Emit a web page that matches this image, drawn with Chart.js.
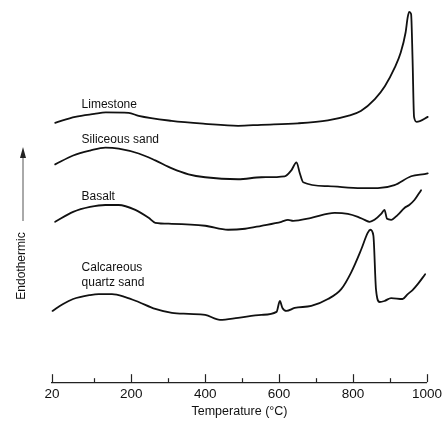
<!DOCTYPE html>
<html>
<head>
<meta charset="utf-8">
<script src="https://cdn.jsdelivr.net/npm/chart.js@4/dist/chart.umd.min.js"></script>
<style>
    html, body { margin: 0; padding: 0; background: #fff; }
    #wrap { width: 446px; height: 426px; }
</style>
</head>
<body>
<div id="wrap"><canvas id="dtaChart"></canvas></div>
<script>
// DTA curves (temperature in °C, deflection in arbitrary units)
const limestoneTemp   = [26, 64, 100, 131, 193, 220, 309, 400, 489, 551, 651, 732, 786, 821, 859, 886, 913, 929, 942, 948, 952, 957, 961, 965, 972, 1002, 1031];
const limestoneSignal = [262, 268, 271, 272.5, 272, 269, 264, 261, 259, 260, 261.5, 264.5, 269, 274, 286, 299, 318, 333, 353, 369, 374, 372, 326, 268, 263, 268, 274];

const siliceousTemp   = [26, 60, 92, 130, 166, 220, 265, 310, 355, 400, 489, 552, 615, 633, 647, 656, 665, 732, 822, 867, 912, 957, 1002, 1042];
const siliceousSignal = [220, 229, 234, 237, 236, 231, 224, 216, 210, 207, 205, 207, 208, 214, 222, 211, 202, 198, 196, 196, 199, 208, 211, 217];

const basaltTemp   = [26, 60, 92, 130, 166, 211, 247, 265, 310, 400, 462, 508, 552, 606, 624, 638, 687, 750, 786, 813, 831, 845, 858, 876, 885, 892, 903, 921, 939, 952, 966, 984];
const basaltSignal = [162, 172, 177, 179, 179, 174, 166, 161, 160, 158, 154, 155, 158, 162, 164, 163, 166, 171, 170, 167, 164, 162, 164, 170, 174, 165, 164, 169, 176, 179, 184, 194];

const calcareousTemp   = [21, 41, 60, 92, 112, 148, 184, 220, 265, 310, 355, 400, 440, 489, 552, 593, 602, 609, 620, 642, 687, 732, 768, 795, 822, 840, 847, 855, 862, 872, 885, 903, 934, 948, 961, 975, 995];
const calcareousSignal = [72, 79, 84, 88, 89, 89, 86, 81, 74, 70, 69, 68, 63, 65, 68, 71, 82, 75, 72, 75, 77, 84, 94, 111, 134, 151, 154, 148, 94, 81, 82, 85, 84, 89, 93, 99, 109];

// axis ticks
const majorTicks = [20, 200, 400, 600, 800, 1000];
const minorTicks = [100, 300, 500, 700, 900];

// curve captions, anchored in data coordinates (left edge, baseline)
const curveLabels = [
    { text: 'Limestone', x: 76, y: 277 },
    { text: 'Siliceous sand', x: 76, y: 242 },
    { text: 'Basalt', x: 76, y: 184 },
    { text: 'Calcareous', x: 76, y: 112 },
    { text: 'quartz sand', x: 76, y: 97 }
];

const FONT = "'Liberation Sans', Arial, Helvetica, sans-serif";
const INK = '#111';

// The printed axis gives the 20–100 °C interval more room than the rest
class PrintedAxis extends Chart.LinearScale {
    static id = 'printed';
    warp(v) {
        return v < 100 ? 100 - (100 - v) * 1.43 : v;
    }
    getPixelForValue(value) {
        const a = this.warp(this.min), b = this.warp(this.max);
        return this.getPixelForDecimal((this.warp(value) - a) / (b - a));
    }
    getValueForPixel(pixel) {
        const a = this.warp(this.min), b = this.warp(this.max);
        const w = a + this.getDecimalForPixel(pixel) * (b - a);
        return w < 100 ? 100 - (100 - w) / 1.43 : w;
    }
}
Chart.register(PrintedAxis);

function toPoints(temps, values) {
    return temps.map((t, i) => ({ x: t, y: values[i] }));
}

function curve(label, temps, values) {
    return {
        label: label,
        data: toPoints(temps, values),
        borderColor: INK,
        borderWidth: 1.8,
        pointRadius: 0,
        fill: false,
        clip: false,
        cubicInterpolationMode: 'monotone',
        borderJoinStyle: 'round',
        borderCapStyle: 'round'
    };
}

// inward tick marks, curve captions and the "Endothermic" arrow
const decorations = {
    id: 'decorations',
    afterDraw(chart) {
        const { ctx, chartArea, scales: { x, y } } = chart;
        ctx.save();

        // tick marks pointing up into the plot
        ctx.strokeStyle = '#222';
        ctx.lineWidth = 1.2;
        const axisY = chartArea.bottom;
        majorTicks.concat(minorTicks).forEach(v => {
            const px = Math.round(x.getPixelForValue(v)) + 0.5;
            const len = majorTicks.includes(v) ? 8 : 4;
            ctx.beginPath();
            ctx.moveTo(px, axisY);
            ctx.lineTo(px, axisY - len);
            ctx.stroke();
        });

        // curve captions
        ctx.fillStyle = INK;
        ctx.font = '12px ' + FONT;
        ctx.textAlign = 'left';
        ctx.textBaseline = 'alphabetic';
        curveLabels.forEach(l => {
            ctx.fillText(l.text, x.getPixelForValue(l.x), y.getPixelForValue(l.y));
        });

        // y label with arrow
        const ax = 23;
        ctx.strokeStyle = '#555';
        ctx.lineWidth = 1;
        ctx.beginPath();
        ctx.moveTo(ax, 221);
        ctx.lineTo(ax, 154);
        ctx.stroke();
        ctx.fillStyle = '#222';
        ctx.beginPath();
        ctx.moveTo(ax, 147);
        ctx.lineTo(ax - 3, 158);
        ctx.lineTo(ax + 3, 158);
        ctx.closePath();
        ctx.fill();

        ctx.translate(22, 266);
        ctx.rotate(-Math.PI / 2);
        ctx.textAlign = 'center';
        ctx.textBaseline = 'middle';
        ctx.fillStyle = INK;
        ctx.font = '12px ' + FONT;
        ctx.fillText('Endothermic', 0, 0);

        ctx.restore();
    }
};

new Chart(document.getElementById('dtaChart'), {
    type: 'line',
    data: {
        datasets: [
            curve('Limestone', limestoneTemp, limestoneSignal),
            curve('Siliceous sand', siliceousTemp, siliceousSignal),
            curve('Basalt', basaltTemp, basaltSignal),
            curve('Calcareous quartz sand', calcareousTemp, calcareousSignal)
        ]
    },
    options: {
        responsive: true,
        maintainAspectRatio: false,
        animation: false,
        events: [],
        layout: { padding: { left: 52, right: 17, top: 6, bottom: 9 } },
        plugins: {
            legend: { display: false },
            tooltip: { enabled: false }
        },
        scales: {
            x: {
                type: 'printed',
                min: 20,
                max: 1000,
                afterBuildTicks: scale => {
                    scale.ticks = majorTicks.concat(minorTicks)
                        .sort((a, b) => a - b)
                        .map(v => ({ value: v }));
                },
                grid: { display: false, drawTicks: false },
                border: { display: true, color: '#222', width: 1.3 },
                ticks: {
                    autoSkip: false,
                    maxRotation: 0,
                    padding: 4,
                    color: INK,
                    font: { family: FONT, size: 13.5 },
                    callback: v => majorTicks.includes(v) ? String(v) : ''
                },
                title: {
                    display: true,
                    text: 'Temperature (°C)',
                    color: INK,
                    padding: { top: 0, bottom: 0 },
                    font: { family: FONT, size: 12.5, lineHeight: 0.85 }
                }
            },
            y: {
                display: false,
                min: 0,
                max: 380
            }
        }
    },
    plugins: [decorations]
});
</script>
</body>
</html>
